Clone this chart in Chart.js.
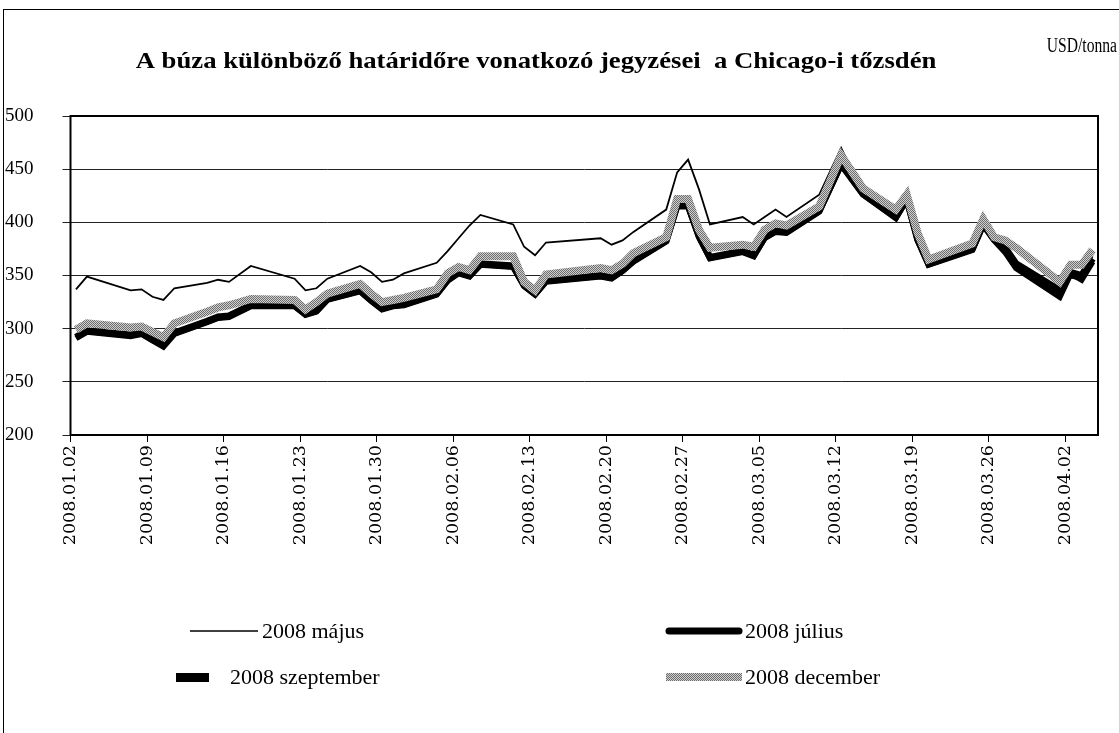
<!DOCTYPE html>
<html>
<head>
<meta charset="utf-8">
<script src="https://cdn.jsdelivr.net/npm/chart.js@4.4.1/dist/chart.umd.min.js"></script>
<style>
  html, body { margin: 0; padding: 0; background: #fff; }
  #wrap { position: relative; width: 1119px; height: 733px; }
</style>
</head>
<body>
<div id="wrap"><canvas id="chart" width="1119" height="733"></canvas></div>
<script>
// trading days
const dates = [
  '2008.01.02', '2008.01.03', '2008.01.07', '2008.01.08', '2008.01.09', '2008.01.10', '2008.01.11',
  '2008.01.14', '2008.01.15', '2008.01.16', '2008.01.18', '2008.01.22', '2008.01.23', '2008.01.24',
  '2008.01.25', '2008.01.28', '2008.01.29', '2008.01.30', '2008.01.31', '2008.02.01', '2008.02.04',
  '2008.02.05', '2008.02.06', '2008.02.07', '2008.02.08', '2008.02.11', '2008.02.12', '2008.02.13',
  '2008.02.14', '2008.02.19', '2008.02.20', '2008.02.21', '2008.02.22', '2008.02.25', '2008.02.26',
  '2008.02.27', '2008.02.28', '2008.02.29', '2008.03.03', '2008.03.04', '2008.03.05', '2008.03.06',
  '2008.03.07', '2008.03.10', '2008.03.12', '2008.03.14', '2008.03.17', '2008.03.18', '2008.03.19',
  '2008.03.20', '2008.03.24', '2008.03.25', '2008.03.26', '2008.03.27', '2008.03.28', '2008.04.01',
  '2008.04.02', '2008.04.03', '2008.04.04'
];

const may = [
  337, 349, 336, 337, 330, 327, 338,
  343, 346, 344, 359, 347, 336, 338,
  347, 359, 353, 344, 346, 352, 362,
  373, 385, 397, 407, 398, 377, 369,
  381, 385, 379, 383, 391, 412, 447,
  459, 431, 398, 405, 398, 405, 412,
  405, 426, 470, 428, 406, 421, 385,
  361, 376, 399, 384, 375, 358, 328,
  348, 346, 368
];
const july = [
  291, 297, 293, 295, 289, 283, 295,
  306, 310, 311, 321, 321, 313, 316,
  327, 335, 326, 318, 321, 322, 332,
  345, 352, 349, 360, 358, 340, 332,
  344, 349, 347, 354, 363, 382, 415,
  415, 386, 366, 372, 368, 385, 391,
  390, 410, 454, 426, 404, 421, 383,
  360, 374, 397, 383, 372, 357, 330,
  352, 346, 363
];
const september = [
  292, 298, 294, 296, 290, 285, 296,
  307, 311, 312, 322, 322, 314, 317,
  328, 336, 327, 319, 322, 323, 333,
  346, 353, 350, 361, 359, 341, 333,
  345, 350, 348, 355, 364, 383, 416,
  416, 387, 367, 373, 369, 386, 392,
  391, 411, 455, 427, 405, 422, 384,
  361, 375, 399, 384, 376, 361, 336,
  353, 350, 366
];
const december = [
  299, 305, 301, 302, 297, 292, 305,
  316, 320, 322, 328, 327, 318, 325,
  333, 342, 333, 325, 327, 329, 337,
  352, 358, 355, 368, 368, 344, 336,
  351, 357, 355, 361, 371, 386, 422,
  422, 393, 376, 379, 377, 393, 399,
  397, 415, 463, 432, 412, 426, 390,
  365, 380, 403, 386, 383, 376, 344,
  360, 360, 374
];

const tickLabels = [
  '2008.01.02', '2008.01.09', '2008.01.16', '2008.01.23', '2008.01.30', '2008.02.06', '2008.02.13',
  '2008.02.20', '2008.02.27', '2008.03.05', '2008.03.12', '2008.03.19', '2008.03.26', '2008.04.02'
];
const seriesNames = ['2008 május', '2008 július', '2008 szeptember', '2008 december'];

// days since the first date; points sit in the middle of their day
const t0 = Date.UTC(2008, 0, 2);
const dayPos = dates.map(d => {
  const p = d.split('.').map(Number);
  return (Date.UTC(p[0], p[1] - 1, p[2]) - t0) / 86400000 + 0.5;
});
const pts = vals => vals.map((v, i) => ({ x: dayPos[i], y: v }));

// grey dotted fill like the old excel pattern
const pc = document.createElement('canvas');
pc.width = 2; pc.height = 2;
const pctx = pc.getContext('2d');
pctx.fillStyle = '#cfcfcf'; pctx.fillRect(0, 0, 2, 2);
pctx.fillStyle = '#6e6e6e'; pctx.fillRect(0, 0, 1, 1); pctx.fillRect(1, 1, 1, 1);
const greyPattern = pctx.createPattern(pc, 'repeat');

const serif = '"Liberation Serif", "Times New Roman", serif';

const decor = {
  id: 'decor',
  afterDraw(chart) {
    const ctx = chart.ctx;
    const a = chart.chartArea;
    ctx.save();
    // outer frame
    ctx.strokeStyle = '#000';
    ctx.lineWidth = 1;
    ctx.strokeRect(3.5, 9.5, 1300, 900);
    // plot frame
    ctx.lineWidth = 2;
    ctx.strokeRect(a.left, a.top, a.right - a.left, a.bottom - a.top);

    ctx.fillStyle = '#000';
    ctx.textBaseline = 'middle';
    // title is a bit wider than the plain font
    ctx.save();
    ctx.font = 'bold 23px ' + serif;
    ctx.textAlign = 'center';
    ctx.translate(536, 62);
    ctx.scale(1.16, 1);
    ctx.fillText('A búza különböző határidőre vonatkozó jegyzései  a Chicago-i tőzsdén', 0, 0);
    ctx.restore();

    // unit label, narrower than the plain font
    ctx.save();
    ctx.font = '20px ' + serif;
    ctx.textAlign = 'right';
    ctx.translate(1117, 47);
    ctx.scale(0.78, 1);
    ctx.fillText('USD/tonna', 0, 0);
    ctx.restore();

    // legend
    ctx.textAlign = 'left';
    ctx.font = '22px ' + serif;
    ctx.lineWidth = 1.5;
    ctx.beginPath(); ctx.moveTo(190, 631); ctx.lineTo(258, 631); ctx.stroke();
    ctx.fillText(seriesNames[0], 262, 632);

    ctx.lineWidth = 7; ctx.lineCap = 'round';
    ctx.beginPath(); ctx.moveTo(669, 631); ctx.lineTo(739, 631); ctx.stroke();
    ctx.fillText(seriesNames[1], 745, 632);

    ctx.fillRect(176, 673, 33, 9);
    ctx.fillText(seriesNames[2], 230, 678);

    ctx.fillStyle = greyPattern;
    ctx.fillRect(666, 673, 76, 8);
    ctx.fillStyle = '#000';
    ctx.fillText(seriesNames[3], 745, 678);
    ctx.restore();
  }
};

new Chart(document.getElementById('chart'), {
  type: 'line',
  data: {
    datasets: [
      { label: seriesNames[0], data: pts(may), borderColor: '#000', borderWidth: 1.8, order: 3 },
      { label: seriesNames[1], data: pts(july), borderColor: '#000', borderWidth: 6, order: 2 },
      { label: seriesNames[2], data: pts(september), borderColor: '#000', borderWidth: 7, order: 1 },
      { label: seriesNames[3], data: pts(december), borderColor: greyPattern, borderWidth: 8, order: 0 }
    ]
  },
  options: {
    responsive: false,
    animation: false,
    layout: { padding: { left: 5, right: 21, top: 116, bottom: 0 } },
    elements: {
      point: { radius: 0, hoverRadius: 0 },
      line: { tension: 0, fill: false, borderJoinStyle: 'miter', borderCapStyle: 'butt' }
    },
    plugins: { legend: { display: false }, title: { display: false }, tooltip: { enabled: false } },
    scales: {
      x: {
        type: 'linear',
        min: 0,
        max: 94,
        afterFit: s => { s.height = 298; },
        grid: { drawOnChartArea: false, drawTicks: true, tickLength: 7, color: '#000', lineWidth: 1 },
        border: { display: false },
        ticks: {
          stepSize: 7,
          includeBounds: false,
          autoSkip: false,
          maxRotation: 90,
          minRotation: 90,
          padding: 3,
          color: '#000',
          font: { family: '"DejaVu Serif", serif', size: 17.5 },
          callback: v => tickLabels[Math.round(v / 7)]
        }
      },
      y: {
        min: 200,
        max: 500,
        afterFit: s => { s.width = 65.5; },
        grid: { color: '#222', lineWidth: 1, tickLength: 8 },
        border: { display: false },
        ticks: {
          stepSize: 50,
          crossAlign: 'far',
          padding: 2,
          color: '#000',
          font: { family: serif, size: 19 }
        }
      }
    }
  },
  plugins: [decor]
});
</script>
</body>
</html>
